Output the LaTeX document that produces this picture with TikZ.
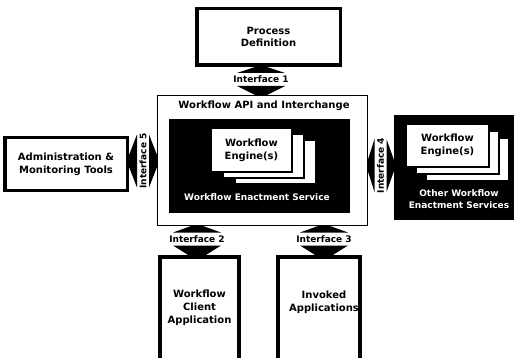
\documentclass[tikz,border=0pt]{standalone}
\usepackage{fontspec}
\setmainfont{DejaVu Sans}
\usetikzlibrary{calc}
\newcommand{\ifvarrow}[3]{%
  \fill ($(#1 -| #2)+(-6,0)$) -- ($(#1 -| #2)+(6,0)$) -- ($(#2)+(24,-6.5)$) -- ($(#2)+(-24,-6.5)$) -- cycle;
  \fill ($(#2)+(-24,6.5)$) -- ($(#2)+(24,6.5)$) -- ($(#3 -| #2)+(6,0)$) -- ($(#3 -| #2)+(-6,0)$) -- cycle;}
\newcommand{\ifharrow}[3]{%
  \fill ($(#1 |- #2)+(0,-6)$) -- ($(#1 |- #2)+(0,6)$) -- ($(#2)+(-6,26.5)$) -- ($(#2)+(-6,-26.5)$) -- cycle;
  \fill ($(#2)+(6,-26.5)$) -- ($(#2)+(6,26.5)$) -- ($(#3 |- #2)+(0,6)$) -- ($(#3 |- #2)+(0,-6)$) -- cycle;}
\begin{document}
\begin{tikzpicture}[x=1pt,y=-1pt,
  txt/.style={font=\bfseries\fontsize{10}{12.8}\selectfont, align=center, inner sep=0pt},
  wtxt/.style={font=\bfseries\fontsize{9}{12}\selectfont, align=center, inner sep=0pt, text=white},
  ifacetxt/.style={font=\bfseries\fontsize{9}{10}\selectfont, inner sep=0pt},
  thickbox/.style={draw=black, line width=3.5pt, fill=white, inner sep=0pt},
  openbox/.style={inner sep=0pt, minimum height=101pt},
  sheet/.style={draw=black, line width=1.8pt, fill=white, inner sep=0pt, minimum width=81pt, minimum height=44pt},
  blackbox/.style={fill=black, inner sep=0pt},
]
\useasboundingbox[fill=white] (0,0) rectangle (516,358);

% Process definition
\node[thickbox, txt, minimum width=143.5pt, minimum height=56.5pt] (pd) at (268.5,37) {Process\\Definition};

% Workflow API and Interchange
\node[draw=black, line width=1pt, inner sep=0pt, minimum width=210pt, minimum height=130pt] (api) at (262.5,160.5) {};
\node[txt] (apilabel) at (264,106) {Workflow API and Interchange};
\node[blackbox, minimum width=181pt, minimum height=94pt] (wes) at (259.5,166) {};
\node[sheet] (eng3) at (275.5,162) {};
\node[sheet] (eng2) at (263.5,156) {};
\node[sheet, txt] (eng1) at (251.5,150) {Workflow\\Engine(s)};
\node[wtxt] (weslabel) at (257,197) {Workflow Enactment Service};

% Administration
\node[thickbox, txt, minimum width=122.5pt, minimum height=52.5pt] (adm) at (66,164) {Administration \&\\Monitoring Tools};

% Other enactment services
\node[blackbox, minimum width=120pt, minimum height=105pt] (other) at (454,167.5) {};
\node[sheet, minimum width=83pt, minimum height=43pt] (oeng3) at (467.5,159.5) {};
\node[sheet, minimum width=83pt, minimum height=43pt] (oeng2) at (457.5,152.5) {};
\node[sheet, txt, minimum width=83pt, minimum height=43pt] (oeng1) at (447.5,145.5) {Workflow\\Engine(s)};
\node[wtxt] (otherlabel) at (459,199) {Other Workflow\\Enactment Services};

% Client application and invoked applications (open at the bottom)
\node[openbox, txt, minimum width=79pt] (client) at (199.5,307.5) {Workflow\\Client\\Application};
\draw[line width=4pt] (client.south west) |- (client.north east) -- (client.south east);
\node[openbox, minimum width=82pt] (inv) at (319,307.5) {};
\draw[line width=4pt] (inv.south west) |- (inv.north east) -- (inv.south east);
\node[txt] (invlabel) at (324,302.5) {Invoked\\Applications};

% Interfaces
\node[ifacetxt] (if1) at (261,79.5) {Interface 1};
\ifvarrow{pd.south}{if1}{api.north}
\node[ifacetxt] (if2) at (197,239) {Interface 2};
\ifvarrow{api.south}{if2}{client.north}
\node[ifacetxt] (if3) at (324,239) {Interface 3};
\ifvarrow{api.south}{if3}{inv.north}
\node[ifacetxt, rotate=90] (if5) at (143,161) {Interface 5};
\ifharrow{adm.east}{if5}{api.west}
\node[ifacetxt, rotate=90] (if4) at (380.5,165.5) {Interface 4};
\ifharrow{api.east}{if4}{other.west}
\end{tikzpicture}
\end{document}
